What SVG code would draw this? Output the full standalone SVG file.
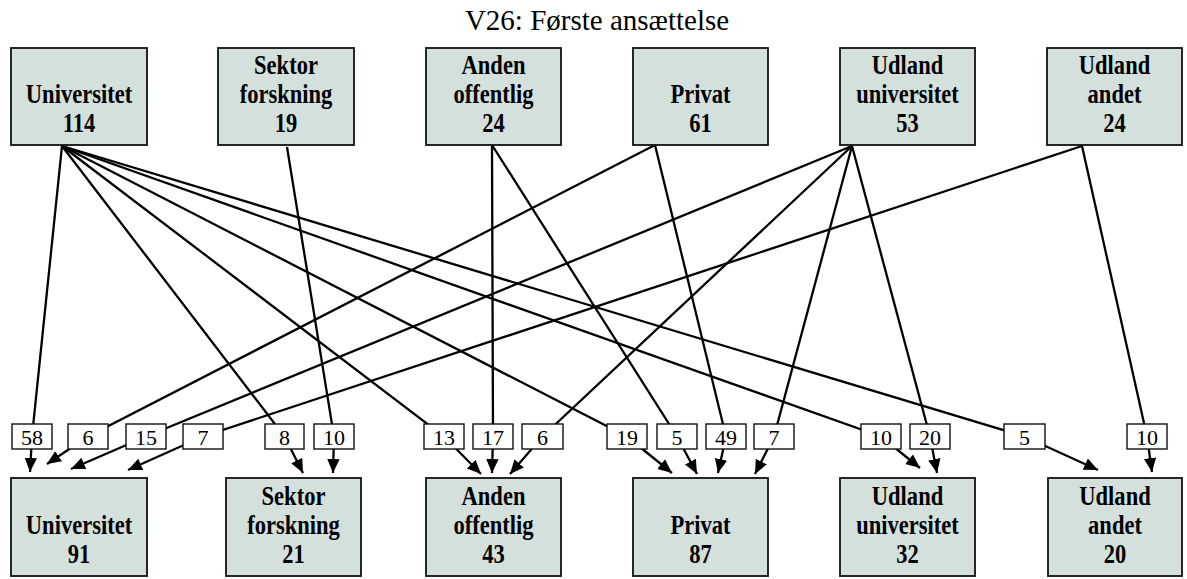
<svg xmlns="http://www.w3.org/2000/svg" width="1187" height="579" viewBox="0 0 1187 579">
<style>
.node rect{fill:#d4e0dc;stroke:#111;stroke-width:1.8}
.nt{font-family:"Liberation Serif","Times New Roman",serif;font-weight:bold;font-size:27.5px;text-anchor:middle;fill:#000}
.lbl rect{fill:#fff;stroke:#111;stroke-width:1.4}
.lbl text{font-family:"Liberation Serif","Times New Roman",serif;font-size:22px;text-anchor:middle;fill:#000}
.e{fill:none;stroke:#000;stroke-width:2.3;marker-end:url(#ah)}
.title{font-family:"Liberation Serif","Times New Roman",serif;font-size:29px;text-anchor:middle;fill:#000}
</style>
<defs>
<marker id="ah" markerUnits="userSpaceOnUse" markerWidth="15" markerHeight="14" viewBox="0 0 15 14" refX="14" refY="7" orient="auto">
<path d="M0,0.8 L14,7 L0,13.2 z" fill="#000"/>
</marker>
</defs>
<rect width="1187" height="579" fill="#fff"/>
<text class="title" x="597" y="30">V26: Første ansættelse</text>

<g id="edges">
<polyline class="e" points="62,146 32,436.5 30,472"/>
<polyline class="e" points="62,146 284.5,436.5 303,473"/>
<polyline class="e" points="62,146 444,436.5 481,474"/>
<polyline class="e" points="62,146 627,436.5 672,473"/>
<polyline class="e" points="62,146 881,436.5 920,468"/>
<polyline class="e" points="62,146 1024.5,436.5 1098,470"/>
<polyline class="e" points="287,147 334,436.5 333,473"/>
<polyline class="e" points="492,145 493,436.5 492,473"/>
<polyline class="e" points="492,145 677,436.5 697,474"/>
<polyline class="e" points="655,145 88,436.5 47,464"/>
<polyline class="e" points="655,145 726,436.5 718,473"/>
<polyline class="e" points="852,146 146,436.5 71,469"/>
<polyline class="e" points="852,146 542.5,436.5 510,474"/>
<polyline class="e" points="852,146 774,436.5 755,474"/>
<polyline class="e" points="852,146 930,436.5 937,473"/>
<polyline class="e" points="1082,146 203,436.5 128,470"/>
<polyline class="e" points="1082,146 1147,436.5 1152,472"/>
</g>

<g id="labels">
<g class="lbl"><rect x="12" y="424" width="40" height="25"/><text x="32" y="444.5">58</text></g>
<g class="lbl"><rect x="68" y="424" width="40" height="25"/><text x="88" y="444.5">6</text></g>
<g class="lbl"><rect x="126" y="424" width="40" height="25"/><text x="146" y="444.5">15</text></g>
<g class="lbl"><rect x="183" y="424" width="40" height="25"/><text x="203" y="444.5">7</text></g>
<g class="lbl"><rect x="265" y="424" width="39" height="25"/><text x="284.5" y="444.5">8</text></g>
<g class="lbl"><rect x="314" y="424" width="40" height="25"/><text x="334" y="444.5">10</text></g>
<g class="lbl"><rect x="424" y="424" width="40" height="25"/><text x="444" y="444.5">13</text></g>
<g class="lbl"><rect x="473" y="424" width="40" height="25"/><text x="493" y="444.5">17</text></g>
<g class="lbl"><rect x="522" y="424" width="41" height="25"/><text x="542.5" y="444.5">6</text></g>
<g class="lbl"><rect x="607" y="424" width="40" height="25"/><text x="627" y="444.5">19</text></g>
<g class="lbl"><rect x="657" y="424" width="40" height="25"/><text x="677" y="444.5">5</text></g>
<g class="lbl"><rect x="706" y="424" width="40" height="25"/><text x="726" y="444.5">49</text></g>
<g class="lbl"><rect x="754" y="424" width="40" height="25"/><text x="774" y="444.5">7</text></g>
<g class="lbl"><rect x="861" y="424" width="40" height="25"/><text x="881" y="444.5">10</text></g>
<g class="lbl"><rect x="910" y="424" width="40" height="25"/><text x="930" y="444.5">20</text></g>
<g class="lbl"><rect x="1004" y="424" width="41" height="25"/><text x="1024.5" y="444.5">5</text></g>
<g class="lbl"><rect x="1127" y="424" width="40" height="25"/><text x="1147" y="444.5">10</text></g>
</g>

<g id="src_universitet" class="node"><rect x="11" y="48" width="136" height="97"/>
<text class="nt" transform="translate(79 0) scale(0.82 1)"><tspan x="0" y="103.5">Universitet</tspan><tspan x="0" y="132.5">114</tspan></text></g>
<g id="src_sektor" class="node"><rect x="218" y="48" width="136" height="97"/>
<text class="nt" transform="translate(286 0) scale(0.82 1)"><tspan x="0" y="74.5">Sektor</tspan><tspan x="0" y="103.5">forskning</tspan><tspan x="0" y="132.5">19</tspan></text></g>
<g id="src_anden" class="node"><rect x="426" y="48" width="135" height="97"/>
<text class="nt" transform="translate(493.5 0) scale(0.82 1)"><tspan x="0" y="74.5">Anden</tspan><tspan x="0" y="103.5">offentlig</tspan><tspan x="0" y="132.5">24</tspan></text></g>
<g id="src_privat" class="node"><rect x="633" y="48" width="135" height="97"/>
<text class="nt" transform="translate(700.5 0) scale(0.82 1)"><tspan x="0" y="103.5">Privat</tspan><tspan x="0" y="132.5">61</tspan></text></g>
<g id="src_udland_univ" class="node"><rect x="840" y="48" width="135" height="97"/>
<text class="nt" transform="translate(907.5 0) scale(0.82 1)"><tspan x="0" y="74.5">Udland</tspan><tspan x="0" y="103.5">universitet</tspan><tspan x="0" y="132.5">53</tspan></text></g>
<g id="src_udland_andet" class="node"><rect x="1047" y="48" width="135" height="97"/>
<text class="nt" transform="translate(1114.5 0) scale(0.82 1)"><tspan x="0" y="74.5">Udland</tspan><tspan x="0" y="103.5">andet</tspan><tspan x="0" y="132.5">24</tspan></text></g>

<g id="dst_universitet" class="node"><rect x="11" y="478" width="136" height="98"/>
<text class="nt" transform="translate(79 0) scale(0.82 1)"><tspan x="0" y="534">Universitet</tspan><tspan x="0" y="563">91</tspan></text></g>
<g id="dst_sektor" class="node"><rect x="226" y="478" width="135" height="98"/>
<text class="nt" transform="translate(293.5 0) scale(0.82 1)"><tspan x="0" y="505">Sektor</tspan><tspan x="0" y="534">forskning</tspan><tspan x="0" y="563">21</tspan></text></g>
<g id="dst_anden" class="node"><rect x="426" y="478" width="135" height="98"/>
<text class="nt" transform="translate(493.5 0) scale(0.82 1)"><tspan x="0" y="505">Anden</tspan><tspan x="0" y="534">offentlig</tspan><tspan x="0" y="563">43</tspan></text></g>
<g id="dst_privat" class="node"><rect x="633" y="478" width="135" height="98"/>
<text class="nt" transform="translate(700.5 0) scale(0.82 1)"><tspan x="0" y="534">Privat</tspan><tspan x="0" y="563">87</tspan></text></g>
<g id="dst_udland_univ" class="node"><rect x="840" y="478" width="135" height="98"/>
<text class="nt" transform="translate(907.5 0) scale(0.82 1)"><tspan x="0" y="505">Udland</tspan><tspan x="0" y="534">universitet</tspan><tspan x="0" y="563">32</tspan></text></g>
<g id="dst_udland_andet" class="node"><rect x="1048" y="478" width="134" height="98"/>
<text class="nt" transform="translate(1115 0) scale(0.82 1)"><tspan x="0" y="505">Udland</tspan><tspan x="0" y="534">andet</tspan><tspan x="0" y="563">20</tspan></text></g>
</svg>
